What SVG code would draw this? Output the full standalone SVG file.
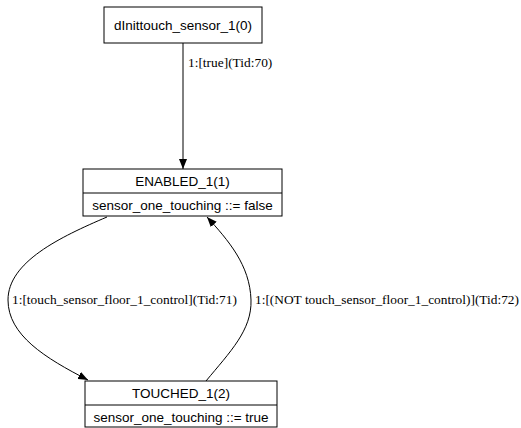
<svg xmlns="http://www.w3.org/2000/svg" width="521" height="428" viewBox="0 0 521 428">
<style>
.box{fill:#fff;stroke:#000;stroke-width:1}
.nt{font-family:"Liberation Sans",Arial,sans-serif;font-size:13.5px;fill:#000;text-anchor:middle}
.et{font-family:"Liberation Serif","Times New Roman",serif;font-size:13.4px;fill:#000}
.edge{fill:none;stroke:#000;stroke-width:1}
</style>
<defs>
<marker id="arr" markerWidth="10" markerHeight="8" refX="10" refY="4" orient="auto" markerUnits="userSpaceOnUse">
<path d="M0,0 L10,4 L0,8 Z" fill="#000"/>
</marker>
</defs>
<rect width="521" height="428" fill="#fff"/>
<g id="connectors">
<path class="edge" d="M183,43 L183,169" marker-end="url(#arr)"/>
<text class="et" x="188" y="67">1:[true](Tid:70)</text>
<path class="edge" d="M107,217 C60,237 8,262 8,300 C8,335 45,358 88,380" marker-end="url(#arr)"/>
<text class="et" x="12" y="304">1:[touch_sensor_floor_1_control](Tid:71)</text>
<path class="edge" d="M206,381 C230,352 252,330 251,300 C250,265 228,240 207,217" marker-end="url(#arr)"/>
<text class="et" x="255" y="304" textLength="264" lengthAdjust="spacingAndGlyphs">1:[(NOT touch_sensor_floor_1_control)](Tid:72)</text>
</g>
<g id="node0">
<rect class="box" x="104" y="7" width="158" height="36"/>
<text class="nt" x="183" y="30">dInittouch_sensor_1(0)</text>
</g>
<g id="node1">
<rect class="box" x="83" y="169" width="199" height="47"/>
<line x1="83" y1="193" x2="282" y2="193" stroke="#000"/>
<text class="nt" x="182.5" y="186">ENABLED_1(1)</text>
<text class="nt" x="182.5" y="210">sensor_one_touching ::= false</text>
</g>
<g id="node2">
<rect class="box" x="85" y="381" width="192" height="46"/>
<line x1="85" y1="405" x2="277" y2="405" stroke="#000"/>
<text class="nt" x="181" y="398">TOUCHED_1(2)</text>
<text class="nt" x="181" y="422">sensor_one_touching ::= true</text>
</g>
</svg>
